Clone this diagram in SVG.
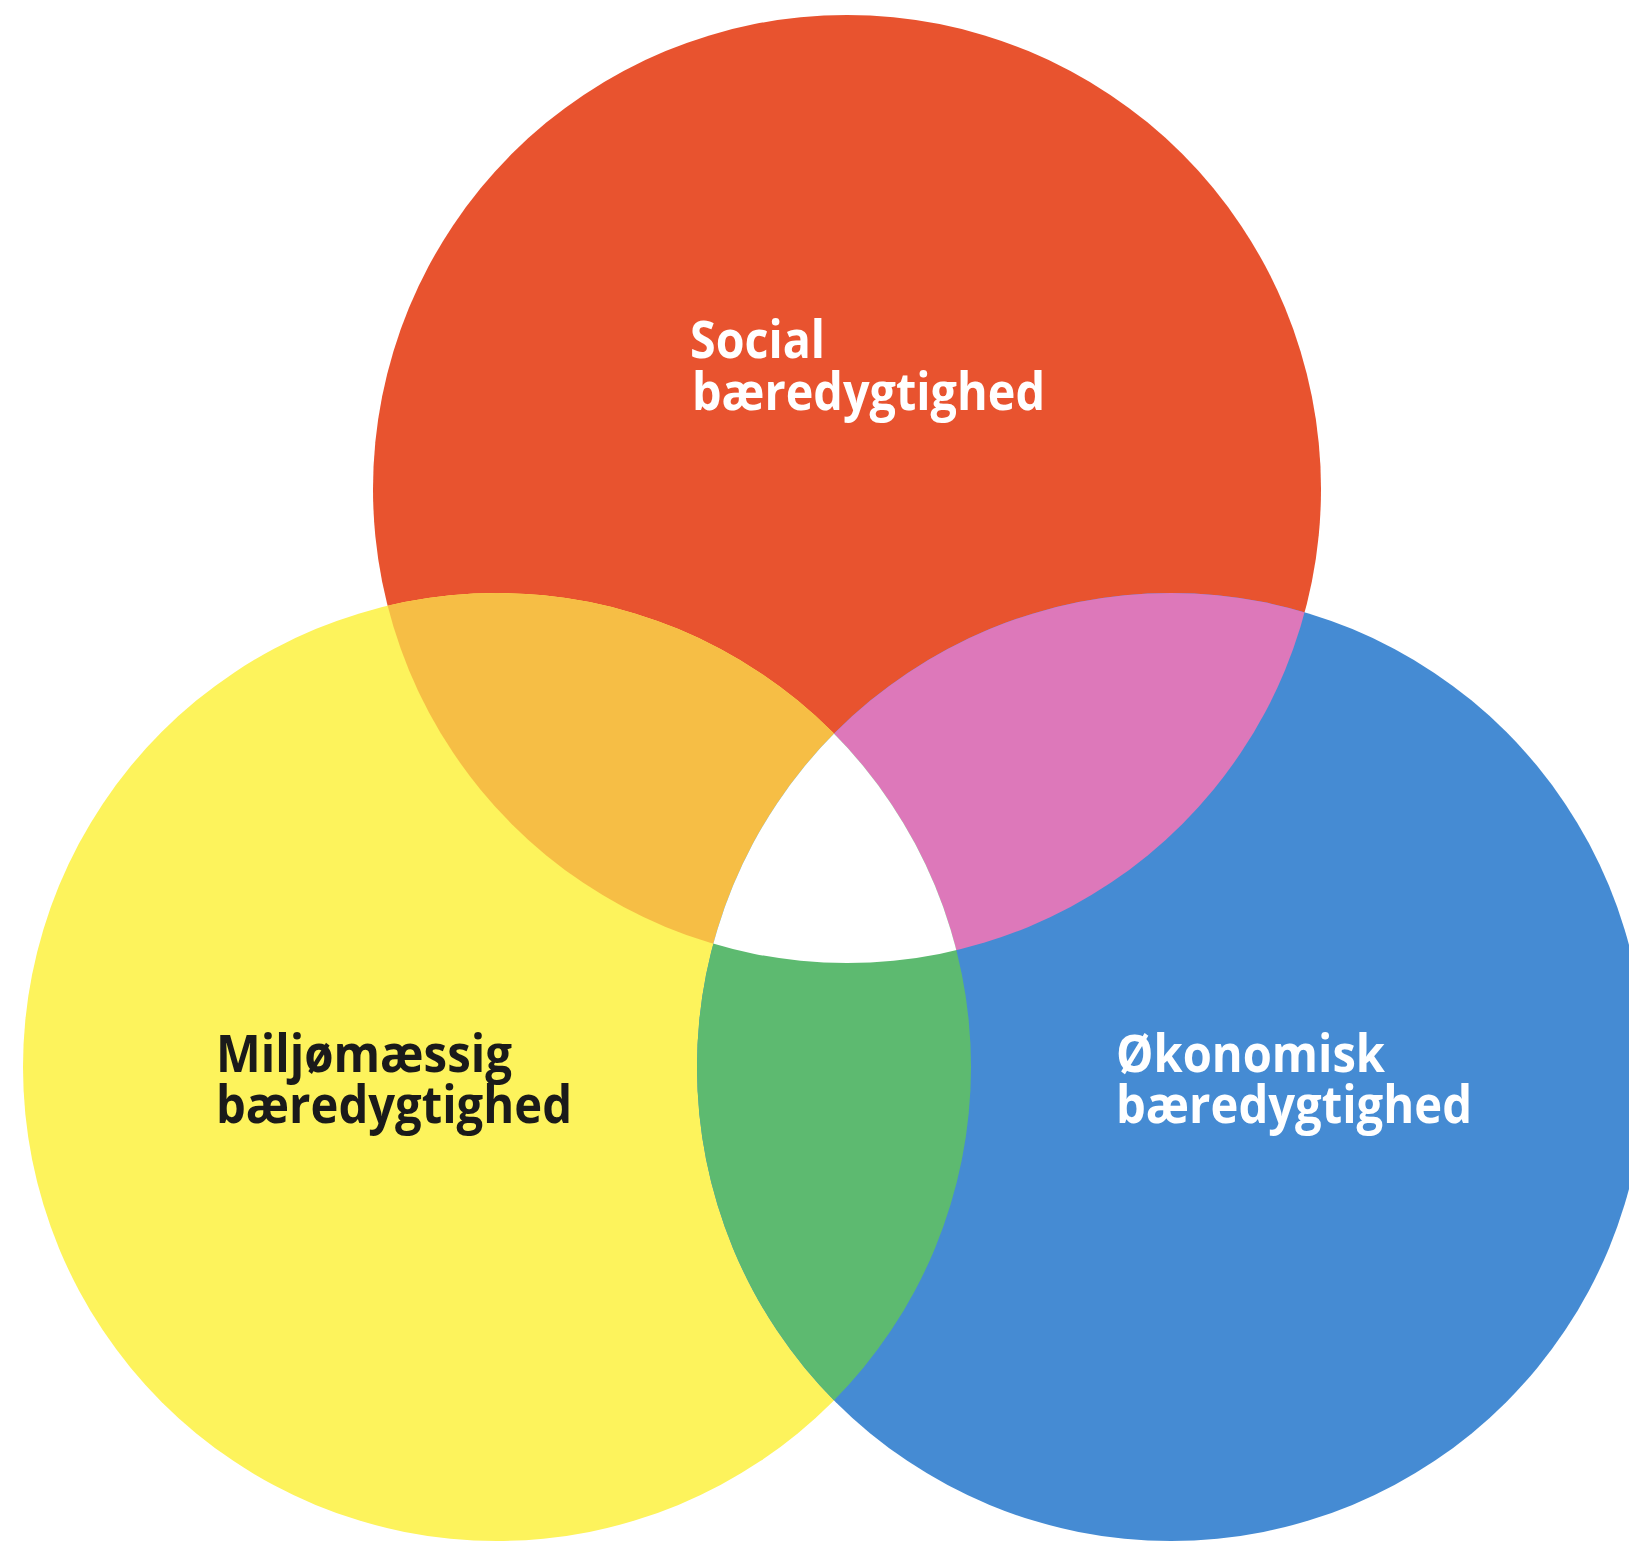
<svg xmlns="http://www.w3.org/2000/svg" width="1629" height="1543" viewBox="0 0 1629 1543">
  <style>
    .lbl { font-family: "Open Sans", "Liberation Sans", sans-serif; font-weight: 700; font-size: 52px; }
    .light { fill: #FFFFFF; }
    .dark { fill: #1A1A1A; }
  </style>
  <defs>
    <circle id="cR" cx="847" cy="489" r="474"/>
    <circle id="cY" cx="497" cy="1067" r="474"/>
    <circle id="cB" cx="1171" cy="1067" r="474"/>
    <clipPath id="clipR"><use href="#cR"/></clipPath>
    <clipPath id="clipY"><use href="#cY"/></clipPath>
    <clipPath id="clipB"><use href="#cB"/></clipPath>
  </defs>
  <rect x="0" y="0" width="1629" height="1543" fill="#FFFFFF"/>

  <g id="social">
    <use href="#cR" fill="#E8532F"/>
  </g>
  <g id="miljo">
    <use href="#cY" fill="#FDF35C"/>
  </g>
  <g id="okonomi">
    <use href="#cB" fill="#458BD3"/>
  </g>

  <g id="overlap-social-miljo" clip-path="url(#clipR)">
    <use href="#cY" fill="#F6BE45"/>
  </g>
  <g id="overlap-social-okonomi" clip-path="url(#clipR)">
    <use href="#cB" fill="#DD78BA"/>
  </g>
  <g id="overlap-miljo-okonomi" clip-path="url(#clipY)">
    <use href="#cB" fill="#5DBA70"/>
  </g>
  <g id="overlap-center" clip-path="url(#clipR)">
    <g clip-path="url(#clipY)">
      <use href="#cB" fill="#FFFFFF"/>
    </g>
  </g>

  <g id="labels">
    <g id="label-social" class="lbl light">
      <text x="690" y="358" textLength="135" lengthAdjust="spacingAndGlyphs">Social</text>
      <text x="692" y="410" textLength="353" lengthAdjust="spacingAndGlyphs">bæredygtighed</text>
    </g>
    <g id="label-miljo" class="lbl dark">
      <text x="216" y="1072" textLength="296" lengthAdjust="spacingAndGlyphs">Miljømæssig</text>
      <text x="216" y="1123" textLength="356" lengthAdjust="spacingAndGlyphs">bæredygtighed</text>
    </g>
    <g id="label-okonomi" class="lbl light">
      <text x="1116" y="1072" textLength="269" lengthAdjust="spacingAndGlyphs">Økonomisk</text>
      <text x="1116" y="1123" textLength="356" lengthAdjust="spacingAndGlyphs">bæredygtighed</text>
    </g>
  </g>
</svg>
